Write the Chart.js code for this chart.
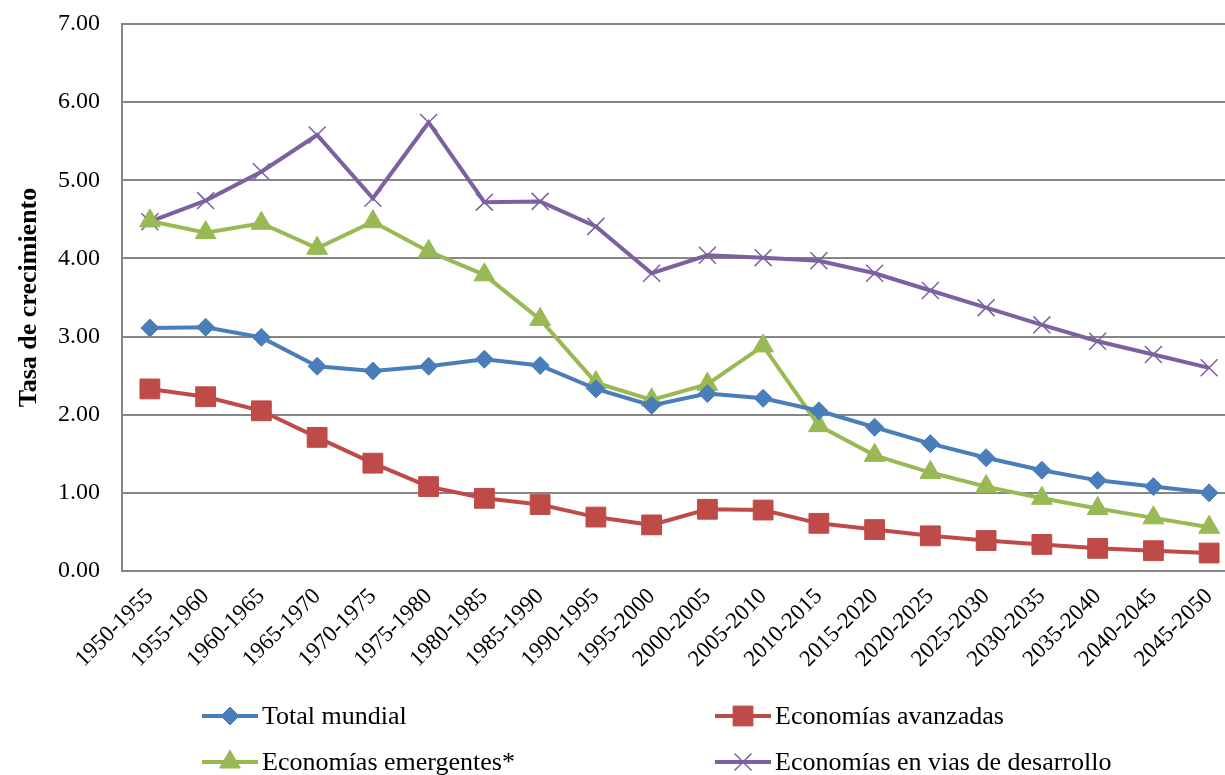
<!DOCTYPE html>
<html lang="es">
<head>
    <meta charset="UTF-8">
    <title>Tasa de crecimiento</title>
    <script src="https://cdn.jsdelivr.net/npm/chart.js"></script>
    <style>
        html, body { margin: 0; background: #fff; overflow: hidden; }
        #wrap { width: 1225px; height: 775px; overflow: hidden; }
        #chart { display: block; }
    </style>
</head>
<body>
    <!-- the plot area runs a little past the right edge of the picture -->
    <div id="wrap"><canvas id="chart" width="1237" height="775"></canvas></div>
    <script>
        // periods
        const periodos = ['1950-1955', '1955-1960', '1960-1965', '1965-1970', '1970-1975', '1975-1980',
            '1980-1985', '1985-1990', '1990-1995', '1995-2000', '2000-2005', '2005-2010', '2010-2015',
            '2015-2020', '2020-2025', '2025-2030', '2030-2035', '2035-2040', '2040-2045', '2045-2050'];

        // growth rates
        const totalMundial = [3.11, 3.12, 2.99, 2.62, 2.56, 2.62, 2.71, 2.63, 2.33, 2.12,
            2.27, 2.21, 2.05, 1.84, 1.63, 1.45, 1.29, 1.16, 1.08, 1.00];
        const avanzadas = [2.33, 2.23, 2.05, 1.71, 1.38, 1.08, 0.93, 0.85, 0.69, 0.59,
            0.79, 0.78, 0.61, 0.53, 0.45, 0.39, 0.34, 0.29, 0.26, 0.23];
        const emergentes = [4.48, 4.33, 4.45, 4.13, 4.47, 4.09, 3.79, 3.22, 2.41, 2.19,
            2.39, 2.88, 1.86, 1.48, 1.26, 1.08, 0.93, 0.80, 0.68, 0.56];
        const desarrollo = [4.47, 4.74, 5.11, 5.58, 4.77, 5.74, 4.72, 4.73, 4.41, 3.81,
            4.04, 4.01, 3.97, 3.81, 3.59, 3.37, 3.15, 2.94, 2.77, 2.60];

        const yTicks = [0, 1, 2, 3, 4, 5, 6, 7];

        const serif = "'Liberation Serif', 'Times New Roman', serif";

        function serie(label, data, color, style, radius, pw) {
            return {
                label: label,
                data: data,
                borderColor: color,
                backgroundColor: color,
                borderWidth: 4,
                pointStyle: style,
                pointRadius: radius,
                pointBorderWidth: pw,
                pointBackgroundColor: color,
                pointBorderColor: color,
                tension: 0,
                clip: false
            };
        }

        // legend drawn below the plot, line + marker like the original
        const legendPlugin = {
            id: 'bottomLegend',
            afterDraw(chart) {
                const ctx = chart.ctx;
                const pos = [[202, 716], [715, 716], [202, 762], [715, 762]];
                chart.data.datasets.forEach((ds, i) => {
                    const [x, y] = pos[i];
                    ctx.save();
                    ctx.strokeStyle = ds.borderColor;
                    ctx.lineWidth = 4;
                    ctx.beginPath();
                    ctx.moveTo(x, y);
                    ctx.lineTo(x + 56, y);
                    ctx.stroke();
                    ctx.fillStyle = ds.pointBackgroundColor;
                    ctx.strokeStyle = ds.pointBorderColor;
                    ctx.lineWidth = ds.pointBorderWidth;
                    Chart.helpers.drawPoint(ctx, {
                        pointStyle: ds.pointStyle,
                        radius: ds.pointRadius,
                        rotation: 0,
                        borderWidth: ds.pointBorderWidth
                    }, x + 28, y);
                    ctx.fillStyle = '#000';
                    ctx.font = '26px ' + serif;
                    ctx.textBaseline = 'middle';
                    ctx.textAlign = 'left';
                    ctx.fillText(ds.label, x + 60, y + 1);
                    ctx.restore();
                });
            }
        };

        new Chart(document.getElementById('chart').getContext('2d'), {
            type: 'line',
            data: {
                labels: periodos,
                datasets: [
                    serie('Total mundial', totalMundial, '#4A7EBB', 'rectRot', 9, 1),
                    serie('Economías avanzadas', avanzadas, '#BE4B48', 'rect', 14, 1),
                    serie('Economías emergentes*', emergentes, '#98B954', 'triangle', 12, 1),
                    serie('Economías en vias de desarrollo', desarrollo, '#7D60A0', 'crossRot', 12, 1.5)
                ]
            },
            options: {
                responsive: false,
                animation: false,
                layout: { autoPadding: false, padding: { top: 24, right: 0, left: 0, bottom: 0 } },
                plugins: {
                    legend: { display: false },
                    tooltip: { enabled: false }
                },
                scales: {
                    x: {
                        offset: true,
                        afterFit(scale) {
                            scale.height = 204;
                            scale.paddingLeft = 0;
                            scale.paddingRight = 0;
                        },
                        grid: { display: false, drawTicks: false },
                        border: { color: '#868686', width: 2 },
                        ticks: {
                            minRotation: 45,
                            maxRotation: 45,
                            autoSkip: false,
                            padding: 12,
                            color: '#000',
                            font: { family: serif, size: 23 }
                        }
                    },
                    y: {
                        min: 0,
                        max: 7,
                        afterFit(scale) {
                            scale.width = 122;
                            scale.paddingTop = 0;
                            scale.paddingBottom = 0;
                        },
                        afterBuildTicks(scale) { scale.ticks = yTicks.map(v => ({ value: v })); },
                        grid: { color: '#868686', lineWidth: 2, drawTicks: false },
                        border: { color: '#868686', width: 2 },
                        ticks: {
                            padding: 22,
                            color: '#000',
                            font: { family: serif, size: 24 },
                            callback: v => v.toFixed(2)
                        },
                        title: {
                            display: true,
                            text: 'Tasa de crecimiento',
                            color: '#000',
                            font: { family: serif, size: 26, weight: 'bold' },
                            padding: { top: 14, bottom: 0 }
                        }
                    }
                }
            },
            plugins: [legendPlugin]
        });
    </script>
</body>
</html>
